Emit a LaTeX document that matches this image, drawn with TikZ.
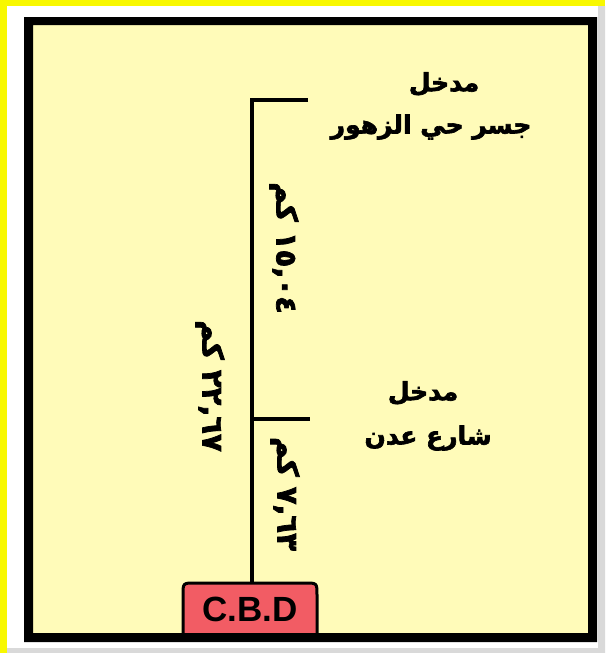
\documentclass[tikz,border=0pt]{standalone}
\usepackage{fontspec}
\setsansfont{Liberation Sans}
\newfontfamily\arabicfont[Script=Arabic,BoldFont={DejaVu Sans Bold},BoldFeatures={FakeBold=2.5}]{DejaVu Sans}
\TeXXeTstate=1
\definecolor{paper}{HTML}{FFFBB9}
\definecolor{frameyellow}{HTML}{F8F800}
\definecolor{cbdred}{HTML}{F25C64}
\tikzset{
  road/.style={line width=4pt, black},
  place/.style={font=\arabicfont\bfseries\fontsize{25}{29}\selectfont, align=center, inner sep=0pt},
  dist/.style={font=\arabicfont\bfseries\fontsize{29}{33}\selectfont, rotate=-90, inner sep=0pt},
  cbdbox/.style={fill=cbdred, draw=black, line width=3pt},
}
\begin{document}
\begin{tikzpicture}[x=1pt,y=-1pt]
\useasboundingbox (0,0) rectangle (605,653);
% outer bevel frame
\fill[frameyellow] (0,0) rectangle (605,653);
\fill[white] (7,6) rectangle (605,653);
\fill[gray!30] (598,6) -- (605,6) -- (605,653) -- (7,653) -- (7,648) -- (598,648) -- cycle;
% interior
\fill[paper] (24,17) rectangle (597,642);
% CBD box
\node[minimum width=134pt, minimum height=50pt, inner sep=0pt] (cbd) at (250,608) {};
\draw[cbdbox] (183,638) -- (183,595) .. controls (183,583) .. (195,583) -- (305,583) .. controls (317,583) .. (317,595) -- (317,638);
\node[font=\sffamily\bfseries\fontsize{35}{38}\selectfont, inner sep=0pt] (cbdtext) at (250,609) {C.B.D};
% roads
\coordinate (top) at (252,100);
\coordinate (topend) at (308,100);
\coordinate (mid) at (252,419);
\coordinate (midend) at (310,419);
\draw[road] (topend) -- (top) -- (top |- cbd.north);
\draw[road] (mid) -- (midend);
% place labels
\node[place] (entry1) at (444,84) {\beginR مدخل\endR};
\node[place] (name1) at (431,127) {\beginR جسر حي الزهور\endR};
\node[place] (entry2) at (423,393) {\beginR مدخل\endR};
\node[place] (name2) at (428,438) {\beginR شارع عدن\endR};
% distances
\node[dist] (d1) at (284,248) {\beginR ١٥,٠٤ كم\endR};
\node[dist] (d2) at (210,386) {\beginR ٢٢,٦٧ كم\endR};
\node[dist] (d3) at (285,494) {\beginR ٧,٦٣ كم\endR};
% black frame on top
\fill[black, even odd rule] (24,17) rectangle (597,642) (33,25) rectangle (588,633);
\end{tikzpicture}
\end{document}
